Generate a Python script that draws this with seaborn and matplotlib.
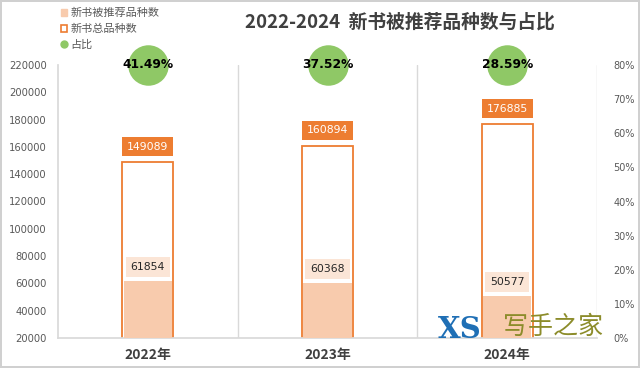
import matplotlib
matplotlib.use("Agg")
import matplotlib.pyplot as plt
import seaborn as sns
import pandas as pd
from matplotlib.patches import Patch
from matplotlib.lines import Line2D

years = ["2022年", "2023年", "2024年"]
total = [149089, 160894, 176885]
recommended = [61854, 60368, 50577]
share = [41.49, 37.52, 28.59]
share_labels = ["41.49%", "37.52%", "28.59%"]
left_ticks = list(range(20000, 220001, 20000))
right_ticks = [0, 10, 20, 30, 40, 50, 60, 70, 80]

sns.set_theme(style="white")
plt.rcParams['font.family'] = ['Noto Sans CJK SC', 'DejaVu Sans']

ORANGE = "#ED7D31"
PEACH = "#F8CBAD"
PEACH_LIGHT = "#FBE5D6"
GREEN = "#8FC866"
GRAY = "#595959"

df = pd.DataFrame({"year": years, "total": total, "rec": recommended})

fig = plt.figure(figsize=(6.4, 3.68), dpi=100)
fig.patch.set_edgecolor("#D0D0D0")
fig.patch.set_linewidth(1.5)
ax = fig.add_axes([58/640, 1-338/368, (597-58)/640, (338-65)/368])

sns.barplot(data=df, x="year", y="total", color="white", edgecolor=ORANGE,
            linewidth=1.3, width=0.285, saturation=1, ax=ax, zorder=2)
sns.barplot(data=df, x="year", y="rec", color=PEACH, edgecolor=PEACH,
            linewidth=0, width=0.27, saturation=1, ax=ax, zorder=3)

ax.set_xlim(-0.5, 2.5)
ax.set_ylim(20000, 220000)
ax.set_yticks(left_ticks)
ax.set_yticklabels([str(t) for t in left_ticks], fontsize=7.2, color=GRAY,
                   family=['DejaVu Sans'])
ax.set_xlabel("")
ax.set_ylabel("")
ax.tick_params(axis='x', length=0, pad=7)
ax.tick_params(axis='y', length=0, pad=8)
for lbl in ax.get_xticklabels():
    lbl.set_fontsize(10)
    lbl.set_color("#404040")
    lbl.set_fontweight("bold")
for s in ["top", "right"]:
    ax.spines[s].set_visible(False)
ax.spines["left"].set_color("#D9D9D9")
ax.spines["bottom"].set_color("#D9D9D9")
for xb in [0.5, 1.5, 2.5]:
    ax.axvline(xb, color="#D9D9D9", lw=1, zorder=1)

# labels
for i, (t, r) in enumerate(zip(total, recommended)):
    ax.annotate(str(t), (i, t), xytext=(0, 11), textcoords="offset points",
                ha="center", va="center", fontsize=7.8, color="white",
                family=['DejaVu Sans'],
                bbox=dict(boxstyle="square,pad=0.45", fc=ORANGE, ec="none"), zorder=5)
    ax.annotate(str(r), (i, r), xytext=(0, 10), textcoords="offset points",
                ha="center", va="center", fontsize=7.8, color="#262626",
                family=['DejaVu Sans'],
                bbox=dict(boxstyle="square,pad=0.45", fc=PEACH_LIGHT, ec="none"), zorder=5)

ax2 = ax.twinx()
ax2.set_ylim(0, 80)
ax2.set_yticks(right_ticks)
ax2.set_yticklabels([f"{t}%" for t in right_ticks], fontsize=7, color=GRAY,
                    family=['DejaVu Sans'])
ax2.tick_params(axis='y', length=0, pad=12)
for s in ax2.spines.values():
    s.set_visible(False)
marker_row = [80, 80, 80]
ax2.scatter(range(len(years)), marker_row, s=850, color=GREEN, zorder=6, clip_on=False,
            linewidths=0)
for i, lab in enumerate(share_labels):
    ax2.text(i, marker_row[i], lab, ha="center", va="center", fontsize=8.8,
             fontweight="bold", color="black", family=['DejaVu Sans'], zorder=7)

fig.text(400/640, 1-22/368, "2022-2024  新书被推荐品种数与占比", ha="center", va="center",
         fontsize=13.5, color="#404040", fontweight="bold")

handles = [Patch(facecolor=PEACH, edgecolor=PEACH),
           Patch(facecolor="white", edgecolor=ORANGE, linewidth=1.2),
           Line2D([], [], marker="o", color=GREEN, linestyle="none", markersize=5)]
leg = fig.legend(handles, ["新书被推荐品种数", "新书总品种数", "占比"],
                 loc="upper left", bbox_to_anchor=(59/640, 1-6/368), frameon=False,
                 fontsize=8, handlelength=0.55, handleheight=0.55, handletextpad=0.3,
                 labelspacing=0.5, borderaxespad=0, borderpad=0.2)
for t in leg.get_texts():
    t.set_color(GRAY)

# watermark
fig.text(438/640, 1-329/368, "XS", ha="left", va="center", fontsize=21,
         fontweight="bold", color="#1F6FB5", family=['DejaVu Serif'], zorder=10)
fig.text(503/640, 1-327/368, "写手之家", ha="left", va="center", fontsize=18,
         color="#8C8C2A", zorder=10)

fig.savefig("out.png", dpi=100)
